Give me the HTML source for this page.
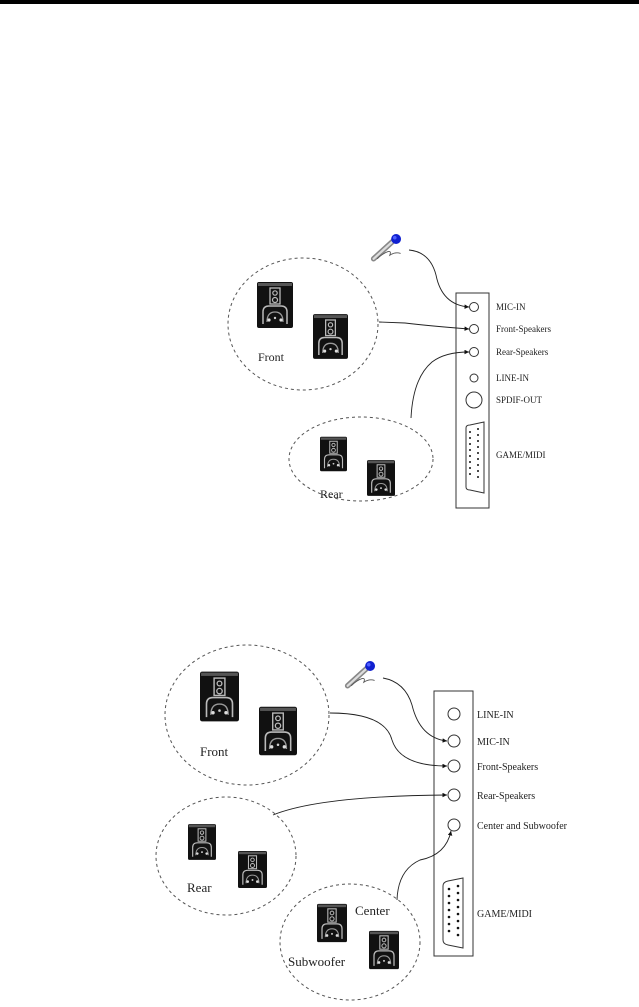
<!DOCTYPE html>
<html><head><meta charset="utf-8"><style>
html,body{margin:0;padding:0;background:#fff;width:639px;height:1007px;overflow:hidden}
svg{display:block}
text{font-family:"Liberation Serif",serif;fill:#222}
</style></head><body>
<svg width="639" height="1007" viewBox="0 0 639 1007" xmlns="http://www.w3.org/2000/svg">
<defs>
<symbol id="spk" viewBox="0 0 36 46">
<rect x="0" y="0" width="36" height="46" rx="2" fill="#111"/>
<rect x="1" y="1" width="34" height="3" fill="#555"/>
<rect x="13" y="6" width="10" height="16" fill="none" stroke="#bbb" stroke-width="1.3"/>
<circle cx="18" cy="11" r="2.2" fill="none" stroke="#bbb" stroke-width="1.2"/>
<circle cx="18" cy="18" r="2.5" fill="none" stroke="#bbb" stroke-width="1.2"/>
<path d="M6 42 V30 Q6 24 12 24 H24 Q30 24 30 30 V42" fill="none" stroke="#bbb" stroke-width="1.5"/>
<path d="M10 40 Q10 30 18 30 Q26 30 26 40" fill="none" stroke="#999" stroke-width="1.3"/>
<circle cx="12" cy="38" r="1.6" fill="#ddd"/><circle cx="24" cy="38" r="1.6" fill="#ddd"/><circle cx="18" cy="36" r="1.2" fill="#ccc"/>
</symbol>
<symbol id="mic" viewBox="0 0 40 32">
<path d="M4 28 L26 8" stroke="#888" stroke-width="6" stroke-linecap="round"/>
<path d="M4 28 L26 8" stroke="#ddd" stroke-width="2.5" stroke-linecap="round"/>
<path d="M8 28 Q14 22 20 20 Q24 19 22 24 Q28 20 34 22" fill="none" stroke="#555" stroke-width="1"/>
<circle cx="29" cy="6" r="5.5" fill="#1020d0"/>
<circle cx="27.5" cy="4.5" r="2" fill="#5060ff"/>
</symbol>
<marker id="ar" viewBox="0 0 6 6" refX="6" refY="3" markerWidth="5" markerHeight="5" orient="auto"><path d="M0 0 L6 3 L0 6z" fill="#111"/></marker>
</defs>
<rect x="0" y="0" width="639" height="4" fill="#000"/>

<!-- Diagram 1 -->
<g fill="none" stroke="#555" stroke-width="1" stroke-dasharray="3,3">
<ellipse cx="303" cy="324" rx="75" ry="66"/>
<ellipse cx="361" cy="459" rx="72" ry="42"/>
</g>
<use href="#spk" x="257" y="282" width="36" height="46"/>
<use href="#spk" x="313" y="313" width="35" height="47"/>
<use href="#spk" x="320" y="436" width="27" height="36"/>
<use href="#spk" x="367" y="460" width="28" height="36"/>
<text x="258" y="361" font-size="12">Front</text>
<text x="320" y="498" font-size="12">Rear</text>
<use href="#mic" x="370" y="233" width="36" height="30"/>
<rect x="456" y="293" width="33" height="215" fill="none" stroke="#333" stroke-width="1"/>
<g fill="none" stroke="#333" stroke-width="1">
<circle cx="474" cy="307" r="4.5"/><circle cx="474" cy="329" r="4.5"/><circle cx="474" cy="352" r="4.5"/>
<circle cx="474" cy="378" r="4"/><circle cx="474" cy="400" r="8"/>
<path d="M466 428 Q466 425 470 425 L484 422 L484 493 L470 490 Q466 490 466 487 Z"/>
</g>
<g fill="#111"><circle cx="470" cy="432" r="1"/><circle cx="470" cy="438" r="1"/><circle cx="470" cy="444" r="1"/><circle cx="470" cy="450" r="1"/><circle cx="470" cy="456" r="1"/><circle cx="470" cy="462" r="1"/><circle cx="470" cy="468" r="1"/><circle cx="470" cy="474" r="1"/>
<circle cx="478" cy="429" r="1"/><circle cx="478" cy="435" r="1"/><circle cx="478" cy="441" r="1"/><circle cx="478" cy="447" r="1"/><circle cx="478" cy="453" r="1"/><circle cx="478" cy="459" r="1"/><circle cx="478" cy="465" r="1"/><circle cx="478" cy="471" r="1"/><circle cx="478" cy="477" r="1"/></g>
<g font-size="9">
<text x="496" y="310">MIC-IN</text><text x="496" y="332">Front-Speakers</text><text x="496" y="355">Rear-Speakers</text>
<text x="496" y="381">LINE-IN</text><text x="496" y="403">SPDIF-OUT</text><text x="496" y="458">GAME/MIDI</text>
</g>
<g fill="none" stroke="#222" stroke-width="0.9" marker-end="url(#ar)">
<path d="M409 250 Q430 252 436 275 Q442 305 469 307"/>
<path d="M379 322 L405 323 Q430 326 469 329"/>
<path d="M411 418 Q413 378 432 362 Q445 352 469 352"/>
</g>

<!-- Diagram 2 -->
<g fill="none" stroke="#555" stroke-width="1" stroke-dasharray="3,3">
<ellipse cx="247" cy="715" rx="82" ry="70"/>
<ellipse cx="226" cy="856" rx="70" ry="59"/>
<ellipse cx="350" cy="942" rx="70" ry="58"/>
</g>
<use href="#spk" x="200" y="670" width="39" height="53"/>
<use href="#spk" x="259" y="705" width="38" height="52"/>
<use href="#spk" x="188" y="822" width="28" height="40"/>
<use href="#spk" x="238" y="850" width="29" height="39"/>
<use href="#spk" x="317" y="903" width="30" height="40"/>
<use href="#spk" x="369" y="930" width="30" height="40"/>
<text x="200" y="756" font-size="13">Front</text>
<text x="187" y="892" font-size="13">Rear</text>
<text x="355" y="915" font-size="13">Center</text>
<text x="288" y="966" font-size="13">Subwoofer</text>
<use href="#mic" x="344" y="660" width="36" height="30"/>
<rect x="434" y="691" width="39" height="265" fill="none" stroke="#333" stroke-width="1"/>
<g fill="none" stroke="#333" stroke-width="1">
<circle cx="454" cy="714" r="6"/><circle cx="454" cy="741" r="6"/><circle cx="454" cy="766" r="6"/>
<circle cx="454" cy="795" r="6"/><circle cx="454" cy="825" r="6"/>
<path d="M443 886 Q443 882 448 881 L463 878 L463 948 L448 945 Q443 944 443 940 Z"/>
</g>
<g fill="#111"><circle cx="449" cy="889" r="1.3"/><circle cx="449" cy="896" r="1.3"/><circle cx="449" cy="903" r="1.3"/><circle cx="449" cy="910" r="1.3"/><circle cx="449" cy="917" r="1.3"/><circle cx="449" cy="924" r="1.3"/><circle cx="449" cy="931" r="1.3"/>
<circle cx="458" cy="886" r="1.3"/><circle cx="458" cy="893" r="1.3"/><circle cx="458" cy="900" r="1.3"/><circle cx="458" cy="907" r="1.3"/><circle cx="458" cy="914" r="1.3"/><circle cx="458" cy="921" r="1.3"/><circle cx="458" cy="928" r="1.3"/><circle cx="458" cy="935" r="1.3"/></g>
<g font-size="10">
<text x="477" y="718">LINE-IN</text><text x="477" y="745">MIC-IN</text><text x="477" y="770">Front-Speakers</text>
<text x="477" y="799">Rear-Speakers</text><text x="477" y="829">Center and Subwoofer</text><text x="477" y="917">GAME/MIDI</text>
</g>
<g fill="none" stroke="#222" stroke-width="0.9" marker-end="url(#ar)">
<path d="M383 678 Q405 682 412 705 Q420 738 447 741"/>
<path d="M330 713 Q385 713 392 740 Q400 766 447 766"/>
<path d="M273 815 Q320 796 447 795"/>
<path d="M397 900 Q398 870 420 860 Q446 855 451 831"/>
</g>
</svg>
</body></html>
